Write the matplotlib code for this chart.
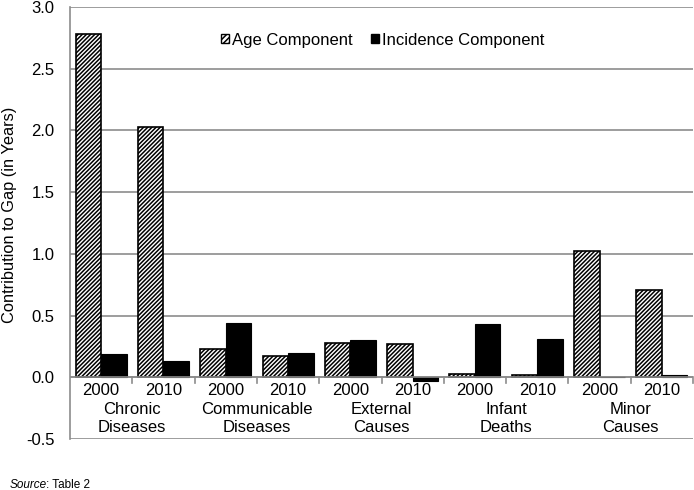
import matplotlib
matplotlib.use("Agg")
import matplotlib.pyplot as plt
from matplotlib.patches import Patch
import numpy as np

plt.rcParams['font.family'] = ['Liberation Sans', 'DejaVu Sans']
plt.rcParams['hatch.linewidth'] = 1.1

categories = ["Chronic\nDiseases", "Communicable\nDiseases", "External\nCauses", "Infant\nDeaths", "Minor\nCauses"]
years = ["2000", "2010"]
age_component = [2.78, 2.03, 0.23, 0.17, 0.28, 0.27, 0.03, 0.02, 1.02, 0.71]
incidence_component = [0.19, 0.13, 0.44, 0.20, 0.30, -0.03, 0.43, 0.31, 0.005, 0.02]
yticks = [-0.5, 0.0, 0.5, 1.0, 1.5, 2.0, 2.5, 3.0]

W, H = 694, 490
fig = plt.figure(figsize=(W/100, H/100), dpi=100)
ax = fig.add_axes([70/W, (H-439)/H, (693-70)/W, (439-7)/H])

HATCH = '////////'
n = len(age_component)
x = np.arange(n)
bw = 0.41
ax.bar(x - bw/2, age_component, bw, color='white', edgecolor='black', hatch=HATCH, linewidth=1.2, zorder=3)
ax.bar(x + bw/2, incidence_component, bw, color='black', edgecolor='black', linewidth=0.8, zorder=3)

ax.set_xlim(-0.5, n - 0.5)
ax.set_ylim(-0.5, 3.0)
ax.set_yticks(yticks)
ax.set_yticklabels([f"{v:.1f}" for v in yticks], fontsize=12)
ax.yaxis.grid(True, color='#8c8c8c', linewidth=1.2, zorder=0)
ax.tick_params(axis='y', length=0, pad=11)
ax.set_xticks([])

for s in ['top', 'right', 'bottom']:
    ax.spines[s].set_visible(False)
ax.spines['left'].set_color('#8c8c8c')
ax.spines['left'].set_linewidth(1.2)

# zero axis line and separators
ax.axhline(0, color='#8c8c8c', linewidth=1.2, zorder=4)
for b in np.arange(0.5, n - 0.5 + 1e-9, 1.0):
    ax.plot([b, b], [0, -0.045], color='#8c8c8c', linewidth=1.2, clip_on=False, zorder=4)

# year labels
for i in range(n):
    ax.text(x[i], -0.11, years[i % 2], ha='center', va='center', fontsize=12)
# category labels
for j, c in enumerate(categories):
    ax.text(2*j + 0.5, -0.335, c, ha='center', va='center', fontsize=12, linespacing=1.25)

ax.set_ylabel("Contribution to Gap (in Years)", fontsize=11.8)
ax.yaxis.label.set_va('center')
ax.yaxis.set_label_coords((9.5 - 70) / 623, (439 - 215) / 432)

handles = [Patch(facecolor='white', edgecolor='black', hatch='//////', label='Age Component'),
           Patch(facecolor='black', edgecolor='black', label='Incidence Component')]
ax.legend(handles=handles, loc='center', bbox_to_anchor=((382.5 - 70) / 623, (439 - 40) / 432), ncol=2, frameon=False,
          fontsize=12, handlelength=0.5, handleheight=0.5, handletextpad=0.15, columnspacing=1.1)

fig.text(10/W, 1 - 488/H, "Source", style='italic', fontsize=8.5, va='baseline', ha='left')
fig.text(10/W + 0.052, 1 - 488/H, ": Table 2", fontsize=8.5, va='baseline', ha='left')

fig.savefig("out.png", dpi=100)
